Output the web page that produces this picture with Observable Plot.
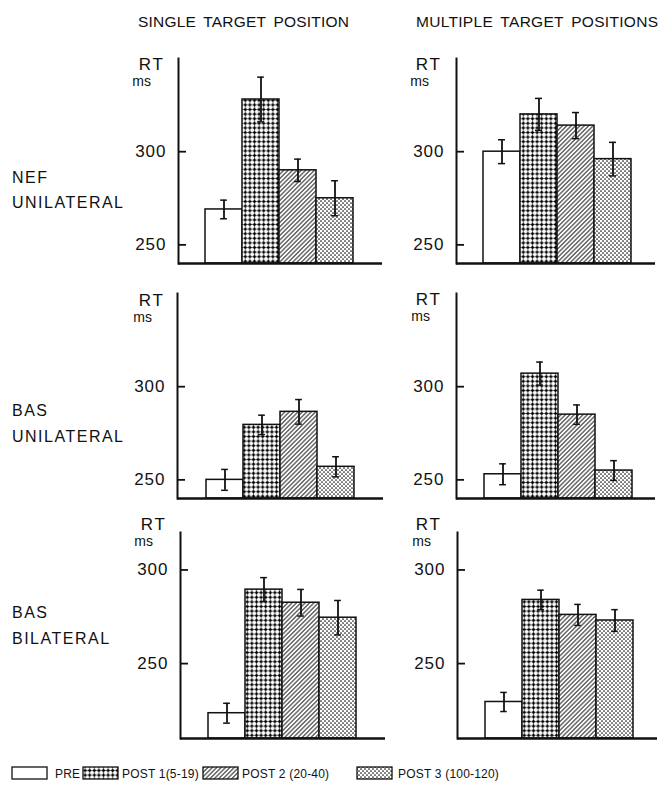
<!DOCTYPE html>
<html>
<head>
<meta charset="utf-8">
<script src="https://cdn.jsdelivr.net/npm/d3@7"></script>
<script src="https://cdn.jsdelivr.net/npm/@observablehq/plot@0.6"></script>
<style>
  html, body { margin: 0; padding: 0; background: #fff; }
  #root { position: relative; width: 667px; height: 789px; overflow: hidden;
          font-family: "Liberation Sans", Arial, sans-serif; color: #111; }
  #root svg.panel { position: absolute; }
  #root svg.panel text { letter-spacing: 1px; }
  #overlay { position: absolute; left: 0; top: 0; }
</style>
</head>
<body>
<div id="root"></div>
<script>
// ---------------- DATA ----------------
const phases = ["PRE", "POST 1(5-19)", "POST 2 (20-40)", "POST 3 (100-120)"];
const columnTitles = ["SINGLE TARGET POSITION", "MULTIPLE TARGET POSITIONS"];
const rowLabels = [["NEF", "UNILATERAL"], ["BAS", "UNILATERAL"], ["BAS", "BILATERAL"]];
const yTicks = [250, 300];
const rowDomains = [[240, 350], [240, 350], [210, 320]];

// mean RT (ms) and error half-widths (ms), order: PRE, POST1, POST2, POST3
const nefUniSingleRT   = [269, 328, 290, 275];
const nefUniSingleErr  = [5, 12, 6, 9.4];
const nefUniMultiRT    = [300, 320, 314, 296];
const nefUniMultiErr   = [6.4, 8.6, 7, 9];
const basUniSingleRT   = [250, 279.5, 286.5, 257];
const basUniSingleErr  = [5.6, 5.2, 6.6, 5.4];
const basUniMultiRT    = [253, 307, 285, 255];
const basUniMultiErr   = [5.6, 6.2, 5.2, 5.3];
const basBiSingleRT    = [223.5, 289.5, 282.5, 274.5];
const basBiSingleErr   = [5.3, 6.4, 7.1, 9.2];
const basBiMultiRT     = [229.5, 284, 276, 273];
const basBiMultiErr    = [5.1, 5.2, 5.6, 5.8];

// ---------------- STYLE / LAYOUT ----------------
const phaseFills = ["#ffffff", "url(#patPost1)", "url(#patPost2)", "url(#patPost3)"];
const ink = "#111";
const FONT = "Liberation Sans, Arial, sans-serif";

const panels = [
  {rt: nefUniSingleRT, err: nefUniSingleErr, row: 0, axisX: 178, top: 58,  bottom: 263, frameW: 204, barStart: 204, barEnd: 353},
  {rt: nefUniMultiRT,  err: nefUniMultiErr,  row: 0, axisX: 456, top: 58,  bottom: 263, frameW: 199, barStart: 483, barEnd: 631},
  {rt: basUniSingleRT, err: basUniSingleErr, row: 1, axisX: 177, top: 293, bottom: 498, frameW: 206, barStart: 205, barEnd: 354},
  {rt: basUniMultiRT,  err: basUniMultiErr,  row: 1, axisX: 456, top: 293, bottom: 498, frameW: 199, barStart: 483, barEnd: 632},
  {rt: basBiSingleRT,  err: basBiSingleErr,  row: 2, axisX: 180, top: 532, bottom: 738, frameW: 205, barStart: 207, barEnd: 356},
  {rt: basBiMultiRT,   err: basBiMultiErr,   row: 2, axisX: 457, top: 532, bottom: 738, frameW: 200, barStart: 484, barEnd: 634}
];

const root = document.getElementById("root");
const NS = "http://www.w3.org/2000/svg";

// ---------- overlay: pattern defs, titles, labels, legend ----------
const ov = document.createElementNS(NS, "svg");
ov.setAttribute("id", "overlay");
ov.setAttribute("width", 667);
ov.setAttribute("height", 789);
ov.innerHTML = `
<defs>
  <pattern id="patPost1" patternUnits="userSpaceOnUse" width="4.6" height="4.6">
    <rect width="4.6" height="4.6" fill="#fff"/>
    <path d="M0,2.3H4.6M2.3,0V4.6" stroke="#333" stroke-width="0.5"/>
    <path d="M2.3,0.7V3.9M0.7,2.3H3.9" stroke="#000" stroke-width="1.5"/>
  </pattern>
  <pattern id="patPost2" patternUnits="userSpaceOnUse" width="3.1" height="3.1" patternTransform="rotate(45)">
    <rect width="3.1" height="3.1" fill="#fff"/>
    <line x1="1.55" y1="-1" x2="1.55" y2="4.1" stroke="${ink}" stroke-width="0.95"/>
  </pattern>
  <pattern id="patPost3" patternUnits="userSpaceOnUse" width="4" height="4">
    <rect width="4" height="4" fill="#fff"/>
    <circle cx="1" cy="1" r="0.85" fill="${ink}"/>
    <circle cx="3" cy="3" r="0.85" fill="${ink}"/>
  </pattern>
</defs>`;
root.appendChild(ov);

function addText(str, x, y, size, opts = {}) {
  const t = document.createElementNS(NS, "text");
  t.setAttribute("x", x);
  t.setAttribute("y", y);
  t.setAttribute("font-family", FONT);
  t.setAttribute("font-size", size);
  t.setAttribute("fill", ink);
  if (opts.anchor) t.setAttribute("text-anchor", opts.anchor);
  let st = "";
  if (opts.ls != null) st += `letter-spacing:${opts.ls}px;`;
  if (opts.ws != null) st += `word-spacing:${opts.ws}px;`;
  t.setAttribute("style", st);
  t.textContent = str;
  ov.appendChild(t);
}

// column titles
addText(columnTitles[0], 138, 27, 15.5, {ws: 3, ls: 0.2});
addText(columnTitles[1], 416, 27, 15.5, {ws: 3, ls: 0.3});

// row labels
const rowLabelBaselines = [[183, 208], [416, 442], [618, 644]];
rowLabels.forEach((lines, r) => {
  lines.forEach((s, k) => addText(s, 12, rowLabelBaselines[r][k], 16, {ls: 1.5}));
});

// RT / ms unit labels
const unitPos = [
  {rtX: 165, rtY: 70, msX: 151, msY: 86},
  {rtX: 442, rtY: 70, msX: 429, msY: 86},
  {rtX: 165, rtY: 306, msX: 152, msY: 322},
  {rtX: 442, rtY: 305, msX: 430, msY: 321},
  {rtX: 167, rtY: 530, msX: 153, msY: 546},
  {rtX: 442, rtY: 530, msX: 431, msY: 546}
];
unitPos.forEach(u => {
  addText("RT", u.rtX, u.rtY, 17, {anchor: "end", ls: 2});
  addText("ms", u.msX, u.msY, 14, {anchor: "end"});
});

// legend
const legendBoxes = [12, 83, 203, 357];
const legendTextX = [55, 122, 242, 398];
phases.forEach((p, i) => {
  const r = document.createElementNS(NS, "rect");
  r.setAttribute("x", legendBoxes[i]);
  r.setAttribute("y", 767);
  r.setAttribute("width", 35);
  r.setAttribute("height", 12);
  r.setAttribute("fill", phaseFills[i]);
  r.setAttribute("stroke", ink);
  r.setAttribute("stroke-width", 1.3);
  ov.appendChild(r);
  addText(p, legendTextX[i], 778, 12, {ls: 0.2});
});

// ---------- panels ----------
const mL = 50, mR = 8, mT = 6, mB = 6;
panels.forEach(P => {
  const domain = rowDomains[P.row];
  const data = phases.map((p, i) => ({phase: p, rt: P.rt[i], err: P.err[i], base: domain[0]}));
  const fh = P.bottom - P.top;
  const bw = (P.barEnd - P.barStart) / phases.length;
  const capInset = (bw - 7) / 2;
  const chart = Plot.plot({
    width: mL + P.frameW + mR,
    height: mT + fh + mB,
    marginLeft: mL, marginRight: mR, marginTop: mT, marginBottom: mB,
    style: {background: "transparent", fontFamily: FONT, fontSize: "17px", color: ink, overflow: "visible"},
    x: {type: "band", domain: phases, padding: 0, axis: null,
        range: [mL + P.barStart - P.axisX, mL + P.barEnd - P.axisX]},
    y: {domain, axis: null},
    color: {type: "ordinal", domain: phases, range: phaseFills},
    marks: [
      Plot.barY(data, {x: "phase", y1: "base", y2: "rt", fill: "phase", stroke: ink, strokeWidth: 1.5}),
      Plot.ruleX(data, {x: "phase", y1: d => d.rt - d.err, y2: d => d.rt + d.err, stroke: ink, strokeWidth: 1.8}),
      Plot.tickY(data, {x: "phase", y: d => d.rt + d.err, insetLeft: capInset, insetRight: capInset, stroke: ink, strokeWidth: 1.5}),
      Plot.tickY(data, {x: "phase", y: d => d.rt - d.err, insetLeft: capInset, insetRight: capInset, stroke: ink, strokeWidth: 1.5}),
      // short inward tick marks at 250 and 300
      Plot.ruleY(yTicks, {y: d => d, insetRight: P.frameW - 8, stroke: ink, strokeWidth: 1.8}),
      // tick labels
      Plot.axisY({ticks: yTicks, tickSize: 0, tickPadding: 12, label: null, fontSize: 17}),
      Plot.frame({anchor: "left", stroke: ink, strokeWidth: 2}),
      Plot.ruleY([domain[0]], {stroke: ink, strokeWidth: 2.5})
    ]
  });
  chart.classList.add("panel");
  chart.style.left = (P.axisX - mL) + "px";
  chart.style.top = (P.top - mT) + "px";
  root.appendChild(chart);
});
</script>
</body>
</html>
